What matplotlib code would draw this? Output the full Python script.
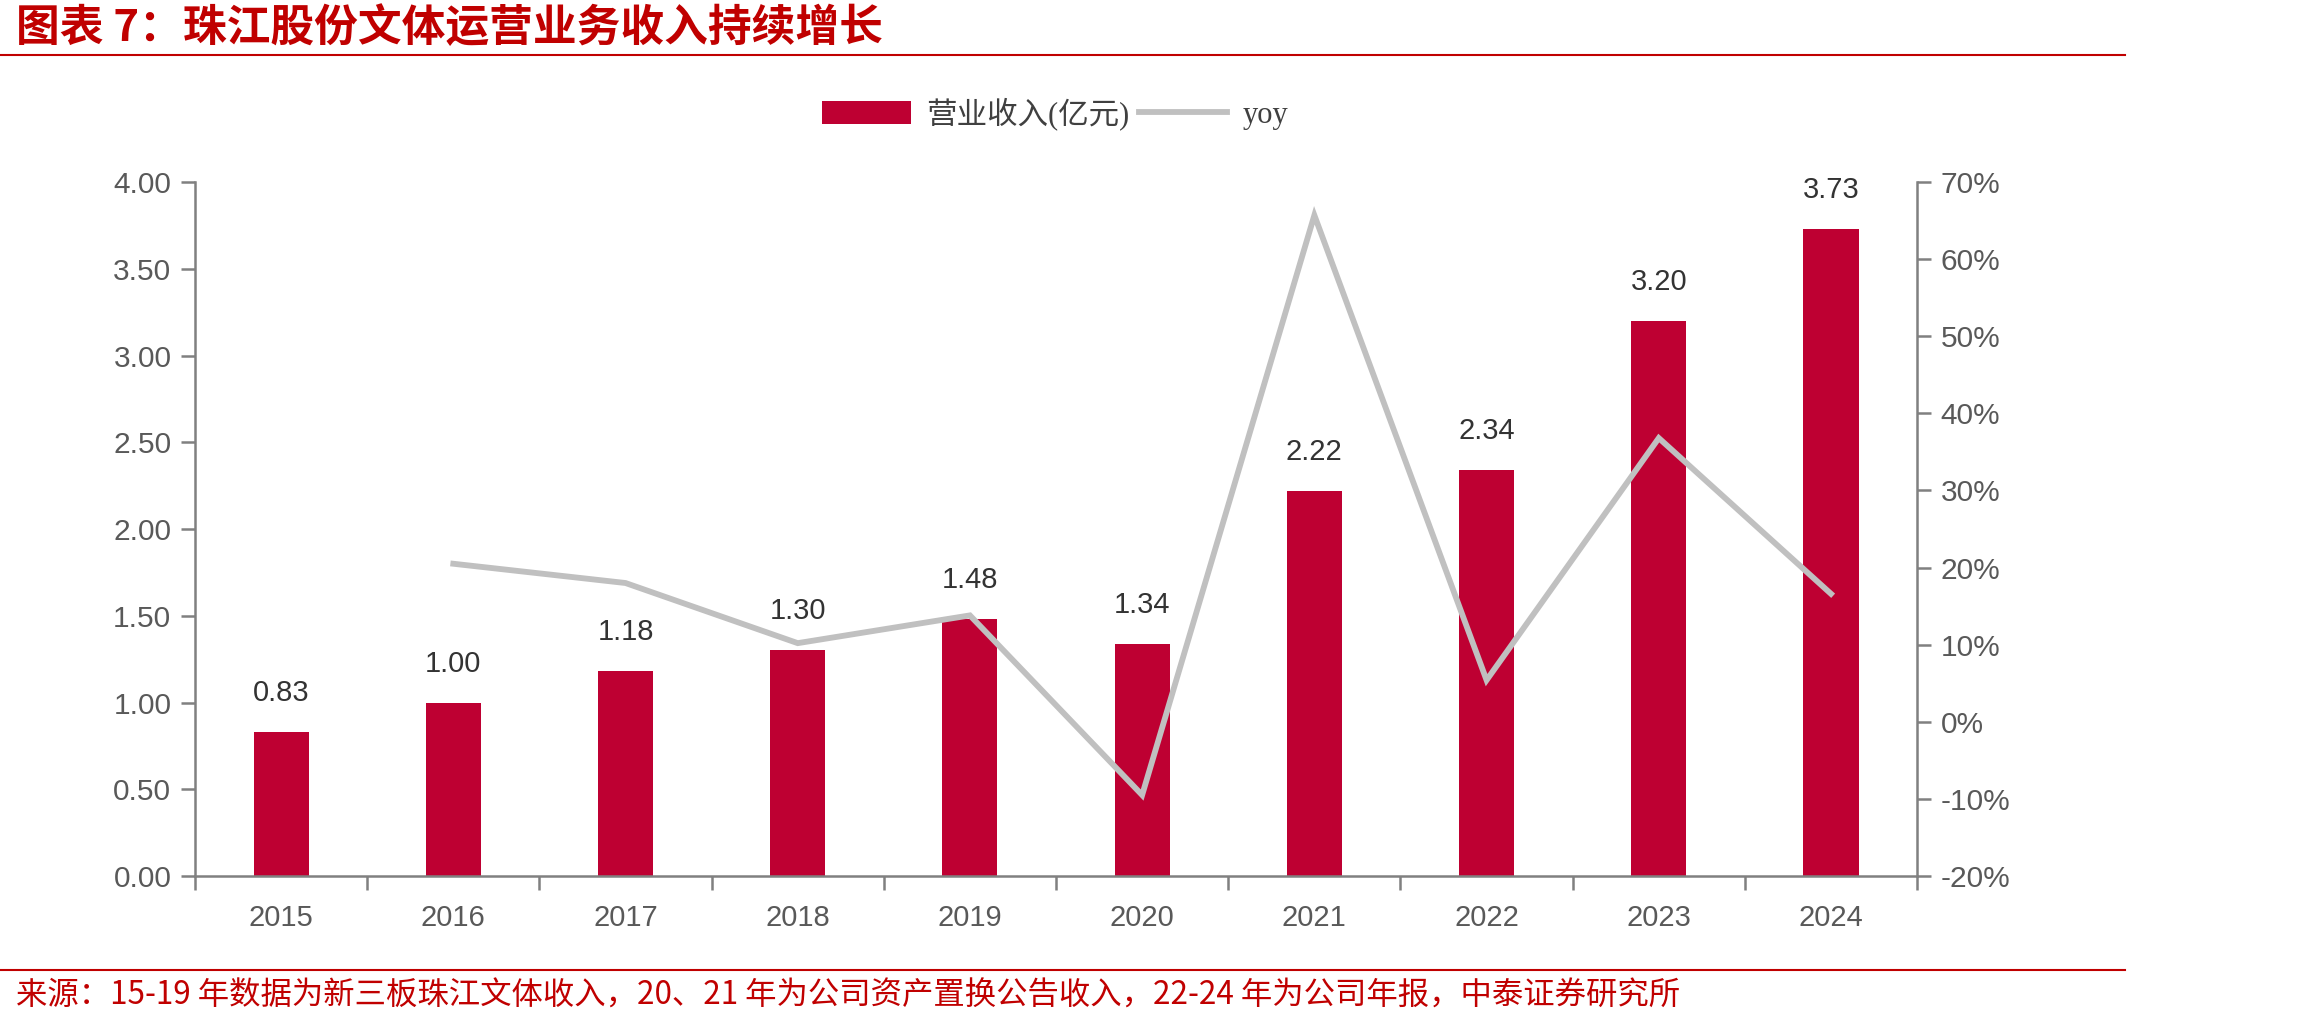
import numpy as np
import matplotlib as mpl
mpl.use('Agg')
from matplotlib import pyplot as plt
from matplotlib.lines import Line2D
from matplotlib.patches import Patch
from matplotlib.ticker import FuncFormatter

plt.rcParams['font.family'] = ['Liberation Sans', 'Noto Sans CJK SC', 'DejaVu Sans']

# - Data
years = ['2015', '2016', '2017', '2018', '2019', '2020', '2021', '2022', '2023', '2024']
revenue = [0.83, 1.00, 1.18, 1.30, 1.48, 1.34, 2.22, 2.34, 3.20, 3.73]
yoy = [np.nan, 20.5, 18.0, 10.2, 13.8, -9.5, 65.7, 5.4, 36.8, 16.6]
left_ticks = [0.0, 0.5, 1.0, 1.5, 2.0, 2.5, 3.0, 3.5, 4.0]
right_ticks = [-20, -10, 0, 10, 20, 30, 40, 50, 60, 70]

title = '图表 7：珠江股份文体运营业务收入持续增长'
source = '来源：15-19 年数据为新三板珠江文体收入，20、21 年为公司资产置换公告收入，22-24 年为公司年报，中泰证券研究所'

bar_color = '#BE0032'
line_color = '#C0C0C0'
axis_color = '#808080'
tick_text = '#595959'
red = '#C00000'

fig = plt.figure(figsize=(23.02, 10.23), dpi=100)
ax = fig.add_axes([0.0847, 0.1437, 0.7481, 0.6783])
ax2 = ax.twinx()

x = np.arange(len(years))
ax.bar(x, revenue, width=0.32, color=bar_color, zorder=2)
for xi, v in zip(x, revenue):
	ax.annotate('%.2f' % v, (xi, v), xytext=(0, 18), textcoords='offset points',
		ha='center', va='bottom', fontsize=21, color='#333333')

ax2.plot(x, yoy, color=line_color, lw=4.2, solid_joinstyle='miter', zorder=3)

# - Axes ranges and ticks
ax.set_xlim(-0.5, len(years) - 0.5)
ax.set_ylim(0, 4.0)
ax2.set_ylim(-20, 70)
ax.set_yticks(left_ticks)
ax.yaxis.set_major_formatter(FuncFormatter(lambda v, p: '%.2f' % v))
ax2.set_yticks(right_ticks)
ax2.yaxis.set_major_formatter(FuncFormatter(lambda v, p: '%d%%' % v))

ax.set_xticks(np.arange(-0.5, len(years), 1.0))
ax.set_xticklabels([])
ax.set_xticks(x, minor=True)
ax.set_xticklabels(years, minor=True)
ax.tick_params(axis='x', which='major', direction='out', length=10, width=1.8, color=axis_color)
ax.tick_params(axis='x', which='minor', length=0, pad=20, labelsize=21, labelcolor=tick_text)
ax.tick_params(axis='y', direction='out', length=10, width=1.8, color=axis_color,
	labelsize=21.5, labelcolor=tick_text, pad=7)
ax2.tick_params(axis='y', direction='out', length=10, width=1.8, color=axis_color,
	labelsize=21.5, labelcolor=tick_text, pad=7)

for a in (ax, ax2):
	a.spines['top'].set_visible(False)
	for s in ('left', 'right', 'bottom'):
		a.spines[s].set_color(axis_color)
		a.spines[s].set_linewidth(1.8)
ax2.spines['left'].set_visible(False)
ax2.spines['bottom'].set_visible(False)
ax.spines['right'].set_visible(False)

# - Legend
handles = [Patch(facecolor=bar_color, edgecolor='none'),
	Line2D([0], [0], color=line_color, lw=4.2)]
leg = fig.legend(handles, ['营业收入(亿元)', 'yoy'], loc='center', bbox_to_anchor=(0.4585, 0.889),
	ncol=2, frameon=False, handlelength=2.9, handleheight=0.75, handletextpad=0.5,
	columnspacing=0.3, prop={'family': ['Liberation Serif', 'Noto Sans CJK SC'], 'size': 22})
for t in leg.get_texts():
	t.set_color('#404040')

# - Title, rules and source
fig.text(0.007, 0.973, title, color=red, fontsize=31.5, fontweight='bold', style='italic',
	ha='left', va='center', family=['Noto Sans CJK SC', 'DejaVu Sans'])
fig.add_artist(Line2D([0, 0.923], [0.946, 0.946], color=red, lw=1.5, transform=fig.transFigure))
fig.add_artist(Line2D([0, 0.923], [0.052, 0.052], color=red, lw=1.5, transform=fig.transFigure))
fig.text(0.007, 0.027, source, color=red, fontsize=22.6, ha='left', va='center',
	family=['Noto Sans CJK SC', 'DejaVu Sans'])

plt.savefig('out.png', dpi=100)
